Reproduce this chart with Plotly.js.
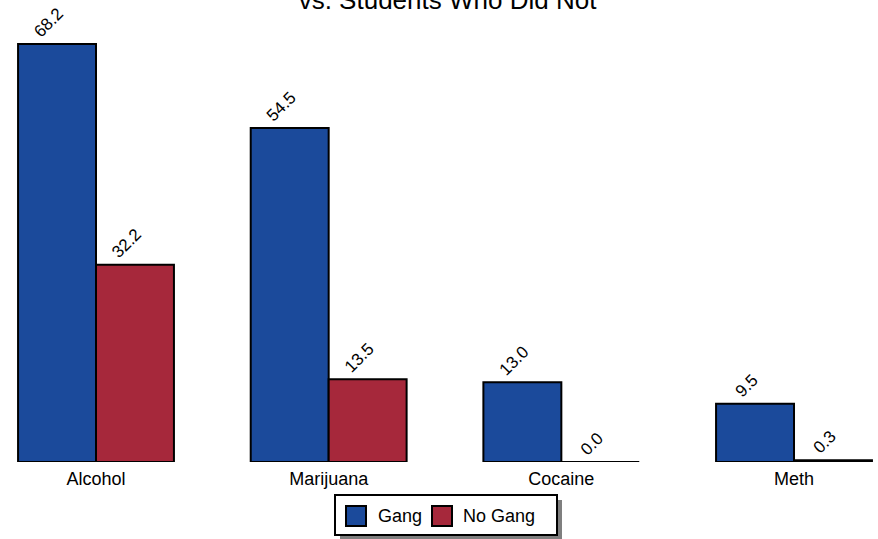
<!DOCTYPE html>
<html><head><meta charset="utf-8">
<script src="https://cdn.plot.ly/plotly-3.0.1.min.js"></script>
<style>html,body{margin:0;padding:0;background:#fff}</style>
</head><body>
<div id="chart" style="width:878px;height:539px"></div>
<script>
var categories = ["Alcohol", "Marijuana", "Cocaine", "Meth"];
var gangValues = [68.2, 54.5, 13.0, 9.5];
var noGangValues = [32.2, 13.5, 0.0, 0.3];
var seriesNames = ["Gang", "No Gang"];
var seriesColors = ["#1B4A9B", "#A6283B"];
var titleText = "vs. Students Who Did Not";

var NB = "\u00a0\u00a0\u00a0\u00a0\u00a0";
function fmt(a){ return a.map(function(v){ return v.toFixed(1) + NB; }); }

var FONT = "Liberation Sans, Arial, sans-serif";
var common = {
  type: "bar",
  textposition: "outside",
  textangle: -45,
  cliponaxis: false,
  constraintext: "none",
  textfont: {family: FONT, size: 17, color: "#000"},
  hoverinfo: "none",
  showlegend: false
};
var traces = [
  Object.assign({}, common, {x: categories, y: gangValues, name: seriesNames[0], text: fmt(gangValues),
    marker: {color: seriesColors[0], line: {color: "#000", width: 2}}}),
  Object.assign({}, common, {x: categories, y: noGangValues, name: seriesNames[1], text: fmt(noGangValues),
    marker: {color: seriesColors[1], line: {color: "#000", width: 2}}})
];

// layout geometry (pixels) -> paper coordinates
var W = 878, H = 539, mT = 30, mB = 77, mL = 0, mR = 0;
var plotH = H - mT - mB, plotW = W - mL - mR;
function px(x){ return (x - mL) / plotW; }
function py(y){ return (H - mB - y) / plotH; }

// custom legend (box with drop shadow, big swatches)
var box = {x0: 335, x1: 557, y0: 495, y1: 535};
var shadow = 5;
var shapes = [
  {type: "rect", xref: "paper", yref: "paper", x0: px(box.x0 + shadow), x1: px(box.x1 + shadow), y0: py(box.y0 + shadow), y1: py(box.y1 + shadow),
    fillcolor: "#7f7f7f", line: {width: 0}},
  {type: "rect", xref: "paper", yref: "paper", x0: px(box.x0), x1: px(box.x1), y0: py(box.y0), y1: py(box.y1),
    fillcolor: "#fff", line: {color: "#000", width: 2}}
];
var swatchX = [346, 432], textX = [376, 461], swatchSize = 20, legendMid = 516;
var annotations = [];
for (var i = 0; i < seriesNames.length; i++) {
  shapes.push({type: "rect", xref: "paper", yref: "paper",
    x0: px(swatchX[i]), x1: px(swatchX[i] + swatchSize), y0: py(legendMid - swatchSize/2), y1: py(legendMid + swatchSize/2),
    fillcolor: seriesColors[i], line: {color: "#000", width: 2}});
  annotations.push({xref: "paper", yref: "paper", x: px(textX[i]), y: py(legendMid), xanchor: "left", yanchor: "middle",
    text: seriesNames[i], showarrow: false, font: {family: FONT, size: 18, color: "#000"}});
}

var layout = {
  width: W, height: H,
  margin: {l: mL, r: mR, t: mT, b: mB},
  paper_bgcolor: "#fff", plot_bgcolor: "#fff",
  font: {family: FONT, color: "#000"},
  title: {text: titleText, font: {family: FONT, size: 26, color: "#000"}, x: 0.5097, xanchor: "center", y: 1, yanchor: "middle", yref: "container", pad: {t: 0, b: 0}},
  barmode: "group",
  bargap: 0.33,
  bargroupgap: 0,
  xaxis: {type: "category", range: [-0.4126, 3.361], showgrid: false, zeroline: false, showline: false, ticks: "",
    ticklabelstandoff: 4,
    tickfont: {family: FONT, size: 18, color: "#000"}, fixedrange: true},
  yaxis: {range: [0, 70.5], visible: false, fixedrange: true},
  showlegend: false,
  shapes: shapes,
  annotations: annotations
};
Plotly.newPlot("chart", traces, layout, {displayModeBar: false, staticPlot: true});
</script>
</body></html>
